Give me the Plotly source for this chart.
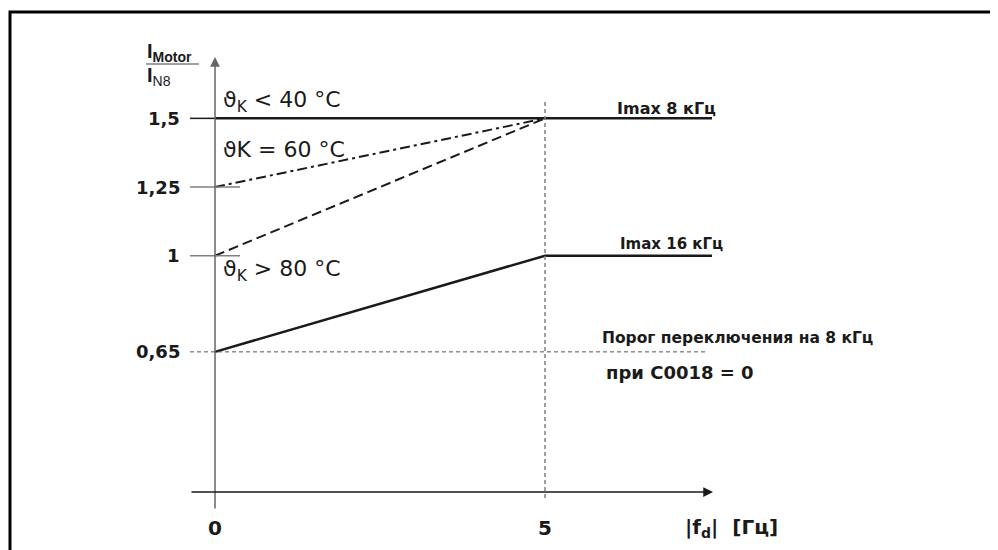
import plotly.graph_objects as go

# ---------------- data ----------------
x_ticks = [0, 5]
x_tick_labels = ["0", "5"]
y_ticks = [1.5, 1.25, 1, 0.65]
y_tick_labels = ["1,5", "1,25", "1", "0,65"]

f_d = [0, 5, 7.53]                # frequency breakpoints |f_d| [Hz]
i_40 = [1.5, 1.5, 1.5]            # theta_K < 40 °C  (Imax 8 kHz)
f_60 = [0, 5]
i_60 = [1.25, 1.5]                # theta_K = 60 °C
f_80 = [0, 5]
i_80 = [1.0, 1.5]                 # theta_K > 80 °C
i_16k = [0.65, 1.0, 1.0]          # Imax 16 kHz
threshold = 0.65                  # switching threshold to 8 kHz
f_corner = 5

# ---------------- page-pixel -> data helpers (for decorations only) ----------------
W, H = 998, 550
OFF = 8                            # default page body margin
X0_PX, X_PER_UNIT = 215.0, 66.0
Y_MID_PX, Y_MID_V, Y_PER_UNIT = 228.25, 1.1, 274.7


def px_x(p):
    return (p - X0_PX) / X_PER_UNIT


def px_y(p):
    return Y_MID_V - (p - Y_MID_PX) / Y_PER_UNIT


FONT = "Liberation Sans, Arial, sans-serif"
BFONT = "DejaVu Sans, Liberation Sans, sans-serif"
DARK = "#1a1a1a"
GRAY = "#808080"

fig = go.Figure()

# main curves
fig.add_trace(go.Scatter(x=f_d, y=i_40, mode="lines",
                         line=dict(color=DARK, width=2.5), hoverinfo="skip"))
fig.add_trace(go.Scatter(x=f_60, y=i_60, mode="lines",
                         line=dict(color=DARK, width=2, dash="10px,4px,3px,4px"), hoverinfo="skip"))
fig.add_trace(go.Scatter(x=f_80, y=i_80, mode="lines",
                         line=dict(color=DARK, width=2, dash="10px,5px"), hoverinfo="skip"))
fig.add_trace(go.Scatter(x=f_d, y=i_16k, mode="lines",
                         line=dict(color=DARK, width=2.5), hoverinfo="skip"))
# threshold line
fig.add_trace(go.Scatter(x=[px_x(190), px_x(708)], y=[threshold, threshold], mode="lines",
                         line=dict(color="#555555", width=1, dash="4px,3px"), hoverinfo="skip"))
# vertical dotted line at corner frequency
fig.add_trace(go.Scatter(x=[f_corner, f_corner], y=[px_y(102), px_y(500)], mode="lines",
                         line=dict(color=GRAY, width=1.5, dash="4px,3px"), hoverinfo="skip"))

FW, FH = W - OFF, H - OFF
shapes = []
# frame
shapes.append(dict(type="rect", xref="paper", yref="paper",
                   x0=(10 - OFF) / FW, x1=1.1, y0=-0.1, y1=1 - (12 - OFF) / FH,
                   line=dict(color="black", width=3), layer="below"))
# y tick marks
tick_ext = {1.5: (190, 215, DARK), 1.25: (190, 240, GRAY), 1: (190, 240, GRAY)}
for v in y_ticks:
    if v in tick_ext:
        a, b, c = tick_ext[v]
        shapes.append(dict(type="line", xref="x", yref="y", x0=px_x(a), x1=px_x(b),
                           y0=v, y1=v, line=dict(color=c, width=1.5)))
# fraction bar of the y-axis title
shapes.append(dict(type="line", xref="x", yref="y", x0=px_x(146), x1=px_x(199),
                   y0=px_y(64), y1=px_y(64), line=dict(color=GRAY, width=1.5)))

annotations = []
# axes with arrows
annotations.append(dict(x=0, y=px_y(57), xref="x", yref="y", ax=0, ay=453,
                        axref="pixel", ayref="pixel", text="", showarrow=True,
                        arrowhead=2, arrowsize=1.3, arrowwidth=1.5, arrowcolor="#666666"))
annotations.append(dict(x=px_x(713), y=px_y(492), xref="x", yref="y", ax=-523, ay=0,
                        text="", showarrow=True, arrowhead=2, arrowsize=1.3,
                        arrowwidth=1.5, arrowcolor=DARK))

# tick labels
for v, t in zip(y_ticks, y_tick_labels):
    annotations.append(dict(x=px_x(182), y=v, xref="x", yref="y", text=f"<b>{t}</b>",
                            showarrow=False, xanchor="right", yanchor="middle",
                            font=dict(family=BFONT, size=18, color=DARK)))
for v, t in zip(x_ticks, x_tick_labels):
    annotations.append(dict(x=v, y=px_y(528), xref="x", yref="y", text=f"<b>{t}</b>",
                            showarrow=False, xanchor="center", yanchor="middle",
                            font=dict(family=BFONT, size=20, color=DARK)))

# axis titles
annotations.append(dict(x=px_x(683), y=px_y(528), xref="x", yref="y",
                        text="<b>|f<sub>d</sub>|  [Гц]</b>", showarrow=False,
                        xanchor="left", yanchor="middle",
                        font=dict(family=BFONT, size=20, color=DARK)))
annotations.append(dict(x=px_x(145), y=px_y(52), xref="x", yref="y",
                        text="<b>I<sub>Motor</sub></b>", showarrow=False,
                        xanchor="left", yanchor="middle",
                        font=dict(family=FONT, size=20, color=DARK)))
annotations.append(dict(x=px_x(145), y=px_y(76), xref="x", yref="y",
                        text="<b>I</b><sub>N8</sub>", showarrow=False,
                        xanchor="left", yanchor="middle",
                        font=dict(family=FONT, size=20, color=DARK)))

# curve labels (offsets in pixels relative to the curves)
annotations.append(dict(x=px_x(221), y=i_40[0], yshift=17, xref="x", yref="y",
                        text="ϑ<sub>K</sub> &lt; 40 °C", showarrow=False,
                        xanchor="left", yanchor="middle",
                        font=dict(family=BFONT, size=22, color=DARK)))
annotations.append(dict(x=px_x(221), y=i_40[0], yshift=-31, xref="x", yref="y",
                        text="ϑK = 60 °C", showarrow=False,
                        xanchor="left", yanchor="middle",
                        font=dict(family=BFONT, size=22, color=DARK)))
annotations.append(dict(x=px_x(221), y=i_80[0], yshift=-15, xref="x", yref="y",
                        text="ϑ<sub>K</sub> &gt; 80 °C", showarrow=False,
                        xanchor="left", yanchor="middle",
                        font=dict(family=BFONT, size=22, color=DARK)))
annotations.append(dict(x=px_x(718), y=i_40[-1], yshift=10, xref="x", yref="y",
                        text="<b>Imax 8 кГц</b>", showarrow=False,
                        xanchor="right", yanchor="middle",
                        font=dict(family=BFONT, size=16, color=DARK)))
annotations.append(dict(x=px_x(725), y=i_16k[-1], yshift=12, xref="x", yref="y",
                        text="<b>Imax 16 кГц</b>", showarrow=False,
                        xanchor="right", yanchor="middle",
                        font=dict(family=BFONT, size=15, color=DARK)))
annotations.append(dict(x=px_x(600), y=threshold, yshift=14, xref="x", yref="y",
                        text="<b>Порог переключения на 8 кГц</b>", showarrow=False,
                        xanchor="left", yanchor="middle",
                        font=dict(family=BFONT, size=15.5, color=DARK)))
annotations.append(dict(x=px_x(604), y=threshold, yshift=-21, xref="x", yref="y",
                        text="<b>при C0018 = 0</b>", showarrow=False,
                        xanchor="left", yanchor="middle",
                        font=dict(family=BFONT, size=18, color=DARK)))

fig.update_layout(
    width=FW, height=FH,
    margin=dict(l=0, r=0, t=0, b=0),
    paper_bgcolor="white", plot_bgcolor="white",
    showlegend=False,
    xaxis=dict(range=[px_x(OFF), px_x(W)], visible=False, fixedrange=True),
    yaxis=dict(range=[px_y(H), px_y(OFF)], visible=False, fixedrange=True),
    shapes=shapes,
    annotations=annotations,
)

fig.write_html("out.html", config={"displayModeBar": False})
